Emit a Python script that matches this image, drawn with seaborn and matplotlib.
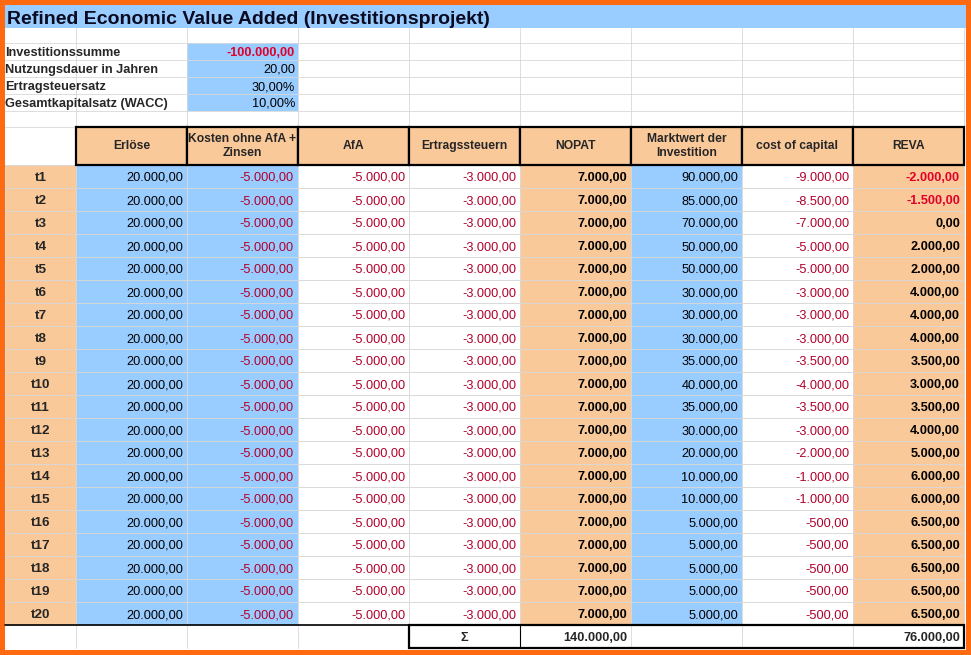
import matplotlib
matplotlib.use("Agg")
import matplotlib.pyplot as plt
from matplotlib.patches import Rectangle
import seaborn as sns

sns.set_theme(style="white", font="Liberation Sans")

title = "Refined Economic Value Added (Investitionsprojekt)"
param_labels = ["Investitionssumme", "Nutzungsdauer in Jahren", "Ertragsteuersatz", "Gesamtkapitalsatz (WACC)"]
param_values = ["-100.000,00", "20,00", "30,00%", "10,00%"]
headers = ["Erlöse", "Kosten ohne AfA +\nZinsen", "AfA", "Ertragssteuern", "NOPAT",
           "Marktwert der\nInvestition", "cost of capital", "REVA"]
periods = ["t%d" % i for i in range(1, 21)]
erloese = [20000] * 20
kosten = [-5000] * 20
afa = [-5000] * 20
steuern = [-3000] * 20
nopat = [7000] * 20
marktwert = [90000, 85000, 70000, 50000, 50000, 30000, 30000, 30000, 35000, 40000,
             35000, 30000, 20000, 10000, 10000, 5000, 5000, 5000, 5000, 5000]
capital = [-9000, -8500, -7000, -5000, -5000, -3000, -3000, -3000, -3500, -4000,
           -3500, -3000, -2000, -1000, -1000, -500, -500, -500, -500, -500]
reva = [-2000, -1500, 0, 2000, 2000, 4000, 4000, 4000, 3500, 3000,
        3500, 4000, 5000, 6000, 6000, 6500, 6500, 6500, 6500, 6500]
sum_nopat = "140.000,00"
sum_reva = "76.000,00"

BLUE = "#99CCFF"
PEACH = "#FAC99A"
ORANGE = "#FF6A10"
RED = "#E0002A"
DRED = "#B0002A"
GRID = "#D8D8D8"
FS = 9.2


def fmt(v):
    s = "{:,.2f}".format(abs(v)).replace(",", "X").replace(".", ",").replace("X", ".")
    return ("-" if v < 0 else "") + s


W, H = 971, 655
fig = plt.figure(figsize=(W / 100, H / 100), dpi=100)
ax = fig.add_axes([0, 0, 1, 1])
ax.set_xlim(0, W)
ax.set_ylim(H, 0)
ax.axis("off")

cols = [5, 76, 187, 298, 409, 520, 631, 742, 853, 964]
col_bg = [PEACH, BLUE, BLUE, "white", "white", PEACH, BLUE, "white", PEACH]
VA = "center_baseline"


def rect(x0, y0, x1, y1, fc, ec="none", lw=0.8, z=1):
    ax.add_patch(Rectangle((x0, y0), x1 - x0, y1 - y0, facecolor=fc, edgecolor=ec, lw=lw, zorder=z))


# orange frame
ax.add_patch(Rectangle((0, 0), W, H, facecolor=ORANGE, edgecolor="none", zorder=0))
rect(5, 5, 966, 650, "white", z=0.5)

# title
rect(5, 5, 966, 28, BLUE)
ax.text(7, 17, title, fontsize=14, fontweight="bold", va=VA, ha="left", color="#0A0A20", zorder=3)

# light grid for upper area
rows_top = [28, 43, 60, 77, 94, 111, 127]
for y in rows_top[1:]:
    ax.plot([5, 964], [y, y], color=GRID, lw=0.6, zorder=2)
for x in cols[1:]:
    ax.plot([x, x], [28, 127], color=GRID, lw=0.6, zorder=2)

# parameters
for i, (lab, val) in enumerate(zip(param_labels, param_values)):
    y0, y1 = rows_top[i + 1], rows_top[i + 2]
    rect(187, y0, 298, y1, BLUE)
    ax.text(5, (y0 + y1) / 2, lab, fontsize=FS, fontweight="bold", va=VA, ha="left", zorder=3)
    ax.text(295, (y0 + y1) / 2, val, fontsize=FS, fontweight="bold" if i == 0 else "normal",
            va=VA, ha="right", color=RED if i == 0 else "black", zorder=3)

# header
hy0, hy1 = 127, 165
for j, h in enumerate(headers):
    rect(cols[j + 1], hy0, cols[j + 2], hy1, PEACH, ec="black", lw=1.6, z=2)
    ax.text((cols[j + 1] + cols[j + 2]) / 2, (hy0 + hy1) / 2, h, fontsize=8.7, fontweight="bold",
            ha="center", va="center", linespacing=1.15, zorder=3)

# data rows
rh = (625 - 165) / 20
series = [erloese, kosten, afa, steuern, nopat, marktwert, capital, reva]
for r in range(20):
    y0 = 165 + r * rh
    y1 = y0 + rh
    yc = (y0 + y1) / 2
    for j in range(9):
        rect(cols[j], y0, cols[j + 1], y1, col_bg[j], ec=GRID, lw=0.6)
    ax.text((cols[0] + cols[1]) / 2, yc, periods[r], fontsize=FS + 0.5, fontweight="bold",
            ha="center", va=VA, zorder=3)
    for j, s in enumerate(series):
        v = s[r]
        bold = j in (4, 7)
        if j == 7:
            color = RED if v < 0 else "black"
        else:
            color = DRED if v < 0 else "black"
        ax.text(cols[j + 2] - 4, yc, fmt(v), fontsize=FS, fontweight="bold" if bold else "normal",
                ha="right", va=VA, color=color, zorder=3)

# sum row
sy0, sy1 = 625, 648
for x in cols[1:]:
    ax.plot([x, x], [sy0, sy1], color=GRID, lw=0.6, zorder=2)
rect(409, sy0, 964, sy1, "none", ec="black", lw=1.6, z=2)
ax.plot([520, 520], [sy0, sy1], color="black", lw=0.8, zorder=2)
ax.text(464, (sy0 + sy1) / 2, "Σ", fontsize=FS, fontweight="bold", ha="center", va=VA, zorder=3)
ax.text(627, (sy0 + sy1) / 2, sum_nopat, fontsize=FS, fontweight="bold", ha="right", va=VA, zorder=3)
ax.text(960, (sy0 + sy1) / 2, sum_reva, fontsize=FS, fontweight="bold", ha="right", va=VA, zorder=3)
ax.plot([5, 964], [sy0, sy0], color="black", lw=1.2, zorder=2)

fig.savefig("out.png", dpi=100)
